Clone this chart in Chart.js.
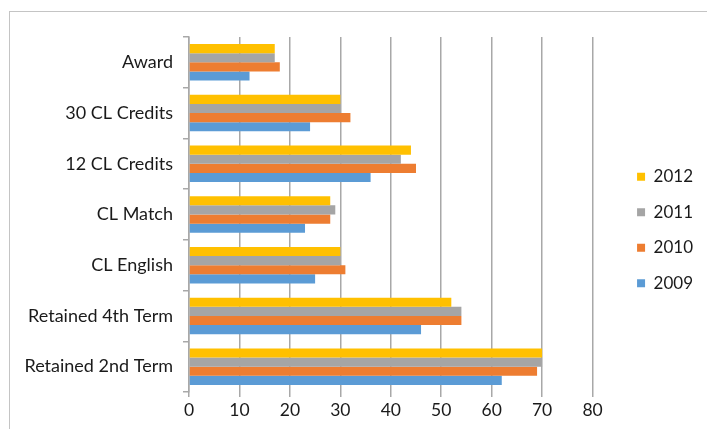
<!DOCTYPE html>
<html>
<head>
<meta charset="utf-8">
<title>Completion milestones by year</title>
<script src="https://cdn.jsdelivr.net/npm/chart.js@4.4.1/dist/chart.umd.min.js"></script>
<style>
  html, body { margin: 0; padding: 0; background: #fff; overflow: hidden; }
  #frame { position: absolute; left: 9px; top: 11px; width: 720px; height: 440px; border: 1px solid #c4c4c4; }
  #wrap { position: absolute; left: 0; top: 0; width: 707px; height: 429px; }
</style>
</head>
<body>
<div id="frame"></div>
<div id="wrap"><canvas id="myChart" width="707" height="429"></canvas></div>
<script>
// milestones, top to bottom
const categories = ['Award', '30 CL Credits', '12 CL Credits', 'CL Match', 'CL English', 'Retained 4th Term', 'Retained 2nd Term'];
const years = ['2012', '2011', '2010', '2009'];
const values2012 = [17, 30, 44, 28, 30, 52, 70];
const values2011 = [17, 30, 42, 29, 30, 54, 70];
const values2010 = [18, 32, 45, 28, 31, 54, 69];
const values2009 = [12, 24, 36, 23, 25, 46, 62];
const xMin = 0, xMax = 80, xStep = 10;

const colors = ['#FFC000', '#A5A5A5', '#ED7D31', '#5B9BD5'];
const series = [values2012, values2011, values2010, values2009];

const fontFamily = 'Lato, "Open Sans", sans-serif';
const textColor = '#1a1a1a';
const gridColor = '#a8a8a8';

// move the legend a bit to the right and up, next to the bars
const legendNudge = {
  id: 'legendNudge',
  afterLayout(chart) {
    const lg = chart.legend;
    lg.left += 26; lg.right += 26;
    lg.top -= 3; lg.bottom -= 3;
  }
};

const grafica = document.getElementById('myChart');
const myChart = new Chart(grafica, {
  type: 'bar',
  data: {
    labels: categories,
    datasets: years.map((y, i) => ({
      label: y,
      data: series[i],
      backgroundColor: colors[i],
      borderWidth: 0,
      categoryPercentage: 0.72,
      barPercentage: 1.0
    }))
  },
  options: {
    indexAxis: 'y',
    responsive: false,
    animation: false,
    devicePixelRatio: 1,
    layout: { padding: { top: 37, left: 0, right: 30, bottom: 0 } },
    plugins: {
      tooltip: { enabled: false },
      legend: {
        position: 'right',
        labels: {
          font: { family: fontFamily, size: 17 },
          color: textColor,
          boxWidth: 8,
          boxHeight: 8,
          padding: 18.5
        }
      }
    },
    scales: {
      x: {
        min: xMin,
        max: xMax,
        ticks: { stepSize: xStep, font: { family: fontFamily, size: 17.5 }, color: textColor, padding: 3 },
        grid: { color: gridColor, lineWidth: 1.5, tickLength: 5 },
        border: { display: false },
        afterFit(scale) { scale.height = 37; }
      },
      y: {
        ticks: { font: { family: fontFamily, size: 18 }, color: textColor, padding: 10 },
        grid: { color: gridColor, lineWidth: 1.5, drawOnChartArea: false, tickLength: 6 },
        border: { display: true, color: gridColor, width: 1.5 },
        afterFit(scale) { scale.width = 189; }
      }
    }
  },
  plugins: [legendNudge]
});
</script>
</body>
</html>
